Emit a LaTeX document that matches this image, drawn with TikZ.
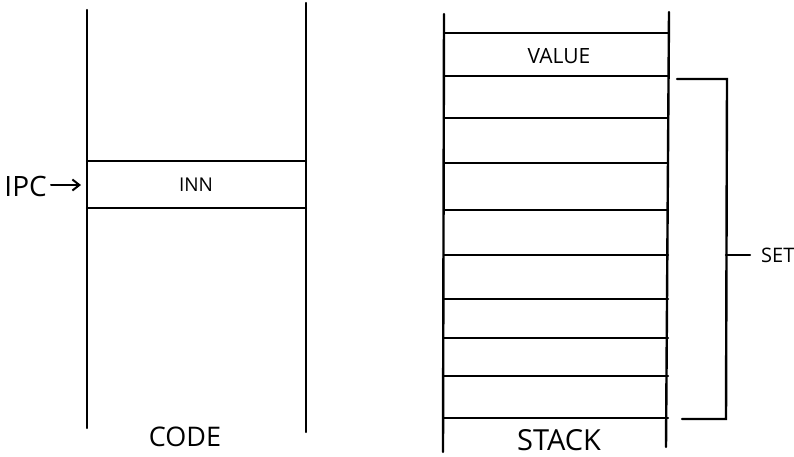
\documentclass[tikz,border=0pt]{standalone}
\usepackage{fontspec}
\setmainfont{Open Sans}
\usetikzlibrary{arrows.meta}
\begin{document}
\begin{tikzpicture}[x=1pt,y=-1pt,line width=2.4pt,line cap=round,
  lbl/.style={inner sep=0pt,font=\fontsize{19}{22}\selectfont},
  biglbl/.style={inner sep=0pt,font=\fontsize{27}{30}\selectfont}]
\useasboundingbox (0,0) rectangle (794,456);
% CODE column
\coordinate (c1t) at (87,10);  \coordinate (c1b) at (87,428);
\coordinate (c2t) at (306,3);  \coordinate (c2b) at (306,432);
\draw (c1t) -- (c1b);
\draw (c2t) -- (c2b);
\draw (87,161) -- (306,161);
\draw (87,208) -- (306,208);
\node[lbl] (inn) at (196,185) {INN};
\node[biglbl,font=\fontsize{28}{31}\selectfont,anchor=east] (ipc) at (48,186) {IPC};
\coordinate (ipctip) at (81,185);
\draw[line width=2pt,-{Straight Barb[length=7pt,width=11pt]}] (ipc.east) ++(3,-1) -- (ipctip);
\node[biglbl] (code) at (185,437) {CODE};
% STACK column
\coordinate (s1t) at (444,14); \coordinate (s1b) at (443,452);
\coordinate (s2t) at (669,12); \coordinate (s2b) at (666,447);
\draw (s1t) -- (s1b);
\draw (s2t) -- (s2b);
\foreach \y in {33,76,118,163,210,255,299,338,376,418}
  \draw (444,\y) -- (668,\y);
\node[lbl,font=\fontsize{21}{24}\selectfont] (value) at (559,56) {VALUE};
\node[biglbl,font=\fontsize{29}{32}\selectfont] (stack) at (559,440) {STACK};
% SET bracket
\coordinate (bt) at (677,79);
\coordinate (btr) at (727,79);
\coordinate (bbr) at (726,419);
\coordinate (bb) at (682,419);
\coordinate (bm) at (726,255);
\draw (bt) -- (btr) -- (bbr) -- (bb);
\node[lbl,font=\fontsize{20}{23}\selectfont,anchor=west] (set) at (760,255) {SET};
\draw (bm) -- ([xshift=-10pt]set.west);
\end{tikzpicture}
\end{document}
